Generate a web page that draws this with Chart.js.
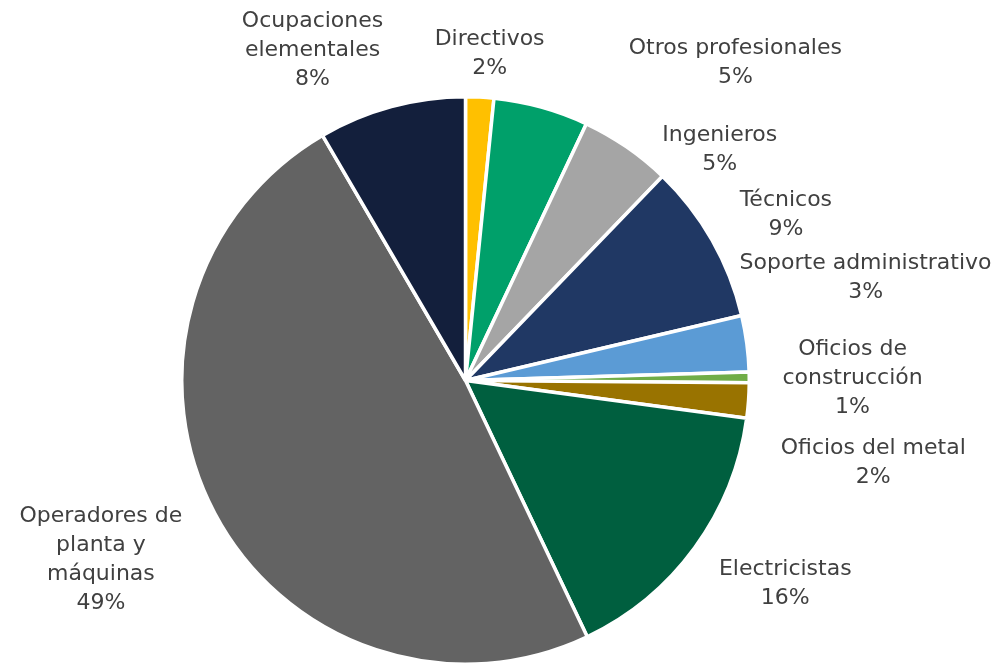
<!DOCTYPE html>
<html>
<head>
<meta charset="utf-8">
<script src="https://cdn.jsdelivr.net/npm/chart.js@4.4.1/dist/chart.umd.min.js"></script>
<style>
  html, body { margin: 0; padding: 0; background: #fff; }
  #wrap { position: relative; width: 1003px; height: 666px; }
</style>
</head>
<body>
<div id="wrap"><canvas id="pieChart"></canvas></div>
<script>
// occupation groups, clockwise from 12 o'clock
const categories = [
  ["Directivos"],
  ["Otros profesionales"],
  ["Ingenieros"],
  ["Técnicos"],
  ["Soporte administrativo"],
  ["Oficios de", "construcción"],
  ["Oficios del metal"],
  ["Electricistas"],
  ["Operadores de", "planta y", "máquinas"],
  ["Ocupaciones", "elementales"],
];
const shares = [1.6, 5.4, 5.2, 9.1, 3.2, 0.6, 2.0, 15.8, 48.6, 8.4];

const sliceColors = [
  "#FFC000", "#00A06A", "#A5A5A5", "#203864", "#5B9BD5",
  "#70AD47", "#997300", "#005F3F", "#636363", "#131F3C",
];

// label block centre, as (dx, dy) in units of the pie radius
const labelOffsets = [
  [0.085, -1.15], [0.951, -1.121], [0.896, -0.812], [1.129, -0.583],
  [1.410, -0.361], [1.364, -0.007], [1.437, 0.290], [1.127, 0.717],
  [-1.285, 0.632], [-0.539, -1.165],
];

const fontSize = 22;
const lineHeight = 29;
const textColor = "#404040";

const outsideLabels = {
  id: "outsideLabels",
  afterDatasetsDraw(chart) {
    const ctx = chart.ctx;
    const arcs = chart.getDatasetMeta(0).data;
    const values = chart.data.datasets[0].data;
    const total = values.reduce((a, b) => a + b, 0);
    ctx.save();
    ctx.font = fontSize + "px 'DejaVu Sans'";
    ctx.fillStyle = textColor;
    ctx.textAlign = "center";
    ctx.textBaseline = "middle";
    arcs.forEach((arc, i) => {
      const r = arc.outerRadius;
      const cx = arc.x + labelOffsets[i][0] * r;
      const cy = arc.y + labelOffsets[i][1] * r;
      const lines = categories[i].concat([Math.round((values[i] / total) * 100) + "%"]);
      const top = cy - ((lines.length - 1) * lineHeight) / 2;
      lines.forEach((t, k) => ctx.fillText(t, cx, top + k * lineHeight));
    });
    ctx.restore();
  },
};

new Chart(document.getElementById("pieChart"), {
  type: "pie",
  data: {
    labels: categories.map((c) => c.join(" ")),
    datasets: [
      {
        data: shares,
        backgroundColor: sliceColors,
        borderColor: "#ffffff",
        borderWidth: 3.5,
      },
    ],
  },
  options: {
    responsive: true,
    maintainAspectRatio: false,
    animation: false,
    layout: {
      padding: { left: 180, right: 252, top: 95, bottom: 0 },
    },
    plugins: {
      legend: { display: false },
      tooltip: { enabled: false },
    },
  },
  plugins: [outsideLabels],
});
</script>
</body>
</html>
